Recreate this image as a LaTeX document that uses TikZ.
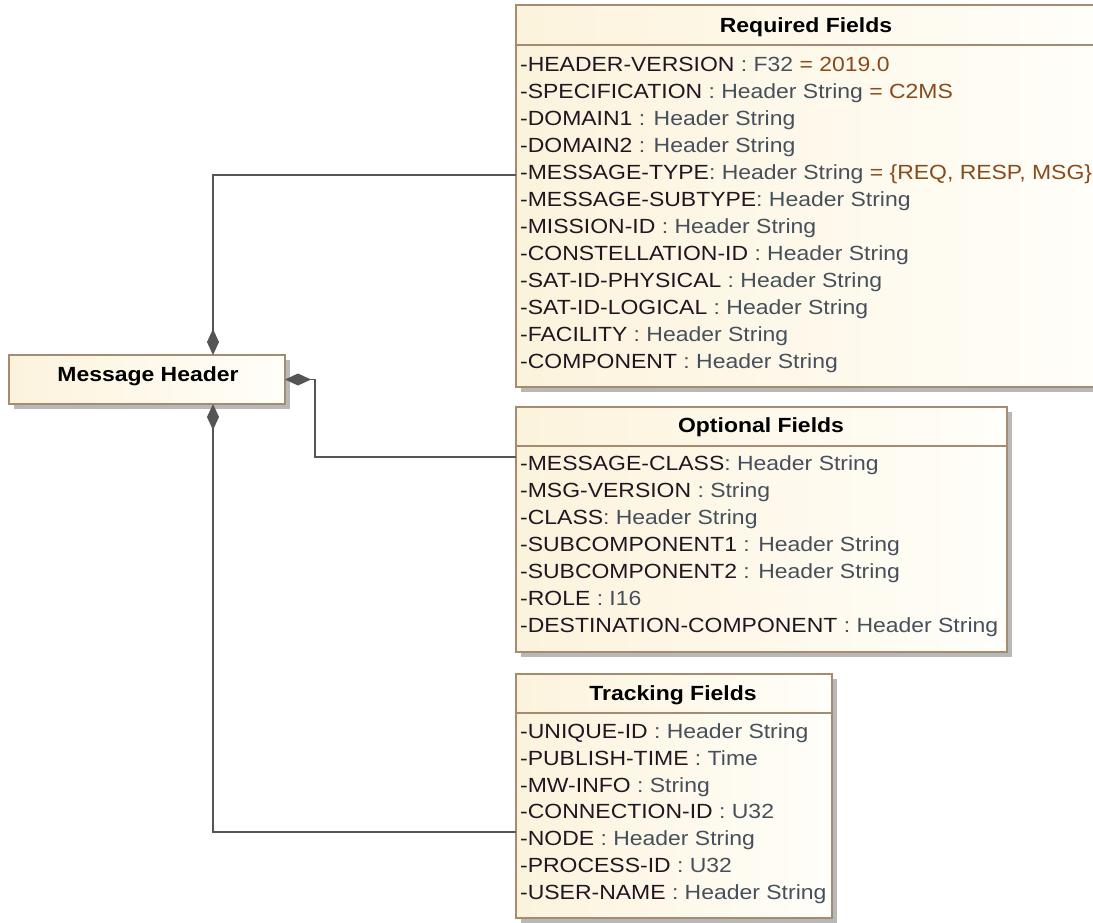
\documentclass[tikz,border=0pt]{standalone}
\usepackage{fontspec}
\setmainfont{Liberation Sans}
\newfontfamily\umlfont[FakeStretch=1.12]{Liberation Sans}
\usetikzlibrary{arrows.meta,shadows}
\definecolor{bord}{HTML}{A58B70}
\definecolor{fillA}{HTML}{FCF3DC}
\definecolor{fillB}{HTML}{FFFEF9}
\definecolor{nmc}{HTML}{1F1620}
\definecolor{tyc}{HTML}{46505C}
\definecolor{vlc}{HTML}{8A4A1A}
\definecolor{conc}{HTML}{555555}
\newcommand\nm[1]{\textcolor{nmc}{#1}}
\newcommand\ty[1]{\textcolor{tyc}{#1}}
\newcommand\vl[1]{\textcolor{vlc}{#1}}
\begin{document}
\begin{tikzpicture}[x=1pt,y=-1pt,
  box/.style={draw=bord, line width=1.6pt, left color=fillA, right color=fillB, anchor=north west, inner sep=0pt, outer sep=0pt,
    drop shadow={shadow xshift=5pt,shadow yshift=-5pt,fill=black!35,opacity=0.8}},
  sep/.style={draw=bord, line width=1.6pt},
  ttl/.style={font=\umlfont\fontsize{20.5}{24}\selectfont\bfseries, anchor=base, inner sep=0pt, text=black},
  attr/.style={font=\umlfont\fontsize{20.5}{24}\selectfont, anchor=base west, inner sep=0pt},
  conn/.style={draw=conc, line width=1.6pt},
  dia/.style={{Diamond[length=26pt,width=12pt]}-}
]
\useasboundingbox (0,0) rectangle (1093,922);

% boxes
\node[box, minimum width=582pt, minimum height=382pt] (req) at (516,5) {};
\node[box, minimum width=491pt, minimum height=245pt] (opt) at (516,407) {};
\node[box, minimum width=316pt, minimum height=244pt] (trk) at (516,674) {};
\node[box, minimum width=276pt, minimum height=49pt] (mh) at (9,355) {};

\draw[sep] (req.west |- 0,45) -- (req.east |- 0,45);
\draw[sep] (opt.west |- 0,446) -- (opt.east |- 0,446);
\draw[sep] (trk.west |- 0,713) -- (trk.east |- 0,713);

% titles
\node[ttl] (reqT) at (806,32) {Required Fields};
\node[ttl] (optT) at (761,432) {Optional Fields};
\node[ttl] (trkT) at (673,700) {Tracking Fields};
\node[ttl] (mhT) at (148,381) {Message Header};

% required
\node[attr] (r1) at (520,71) {\nm{-HEADER-VERSION} \ty{: F32} \vl{= 2019.0}};
\node[attr] (r2) at (520,98) {\nm{-SPECIFICATION} \ty{: Header String} \vl{= C2MS}};
\node[attr] (r3) at (520,125) {\nm{-DOMAIN1} \ty{: Header String}};
\node[attr] (r4) at (520,152) {\nm{-DOMAIN2} \ty{: Header String}};
\node[attr] (r5) at (520,179) {\nm{-MESSAGE-TYPE}\ty{: Header String} \vl{= \{REQ, RESP, MSG\}}};
\node[attr] (r6) at (520,206) {\nm{-MESSAGE-SUBTYPE}\ty{: Header String}};
\node[attr] (r7) at (520,233) {\nm{-MISSION-ID} \ty{: Header String}};
\node[attr] (r8) at (520,260) {\nm{-CONSTELLATION-ID} \ty{: Header String}};
\node[attr] (r9) at (520,287) {\nm{-SAT-ID-PHYSICAL} \ty{: Header String}};
\node[attr] (r10) at (520,314) {\nm{-SAT-ID-LOGICAL} \ty{: Header String}};
\node[attr] (r11) at (520,341) {\nm{-FACILITY} \ty{: Header String}};
\node[attr] (r12) at (520,368) {\nm{-COMPONENT} \ty{: Header String}};

% optional
\node[attr] (o1) at (520,470) {\nm{-MESSAGE-CLASS}\ty{: Header String}};
\node[attr] (o2) at (520,497) {\nm{-MSG-VERSION} \ty{: String}};
\node[attr] (o3) at (520,524) {\nm{-CLASS}\ty{: Header String}};
\node[attr] (o4) at (520,551) {\nm{-SUBCOMPONENT1} \ty{: Header String}};
\node[attr] (o5) at (520,578) {\nm{-SUBCOMPONENT2} \ty{: Header String}};
\node[attr] (o6) at (520,605) {\nm{-ROLE} \ty{: I16}};
\node[attr] (o7) at (520,632) {\nm{-DESTINATION-COMPONENT} \ty{: Header String}};

% tracking
\node[attr] (t1) at (520,738) {\nm{-UNIQUE-ID} \ty{: Header String}};
\node[attr] (t2) at (520,765) {\nm{-PUBLISH-TIME} \ty{: Time}};
\node[attr] (t3) at (520,792) {\nm{-MW-INFO} \ty{: String}};
\node[attr] (t4) at (520,818) {\nm{-CONNECTION-ID} \ty{: U32}};
\node[attr] (t5) at (520,845) {\nm{-NODE} \ty{: Header String}};
\node[attr] (t6) at (520,872) {\nm{-PROCESS-ID} \ty{: U32}};
\node[attr] (t7) at (520,899) {\nm{-USER-NAME} \ty{: Header String}};

% connectors
\coordinate (reqC) at (req.west |- 0,175);
\coordinate (optC) at (opt.west |- 0,457);
\coordinate (trkC) at (trk.west |- 0,832);
\coordinate (optK) at (315,0);
\draw[conn,dia] (mh.north -| 213,0) -- (213,175) -- (reqC);
\draw[conn,dia] (mh.east) -- (optK |- mh.east) |- (optC);
\draw[conn,dia] (mh.south -| 213,0) -- (213,832) -- (trkC);
\end{tikzpicture}
\end{document}
